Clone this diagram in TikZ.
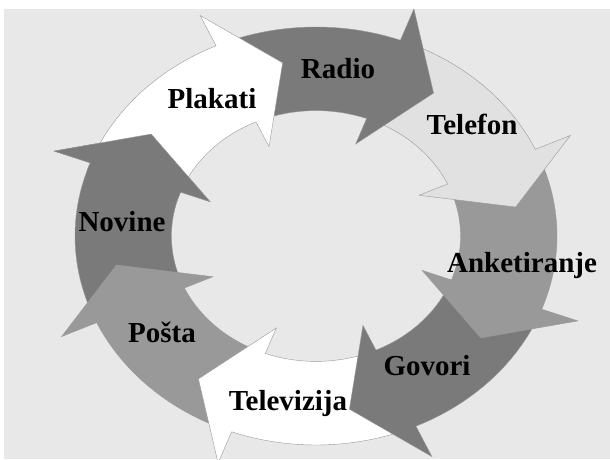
\documentclass[tikz,border=0pt]{standalone}
\usepackage{fontspec}
\setmainfont{Liberation Serif}
\definecolor{PanelGray}{RGB}{232,232,232}
\definecolor{LightArrow}{RGB}{225,225,225}
\definecolor{MidArrow}{RGB}{153,153,153}
\definecolor{DarkArrow}{RGB}{122,122,122}
\tikzset{
  ringarrow/.style={draw=black!40,line width=0.4pt,line join=miter},
  ringlabel/.style={anchor=base,inner sep=0pt,
    font=\bfseries\fontsize{29}{34}\selectfont},
}
% one curved arrow of the ring, #1 = angle of the tip, #2 = fill
\newcommand{\cyclearrow}[2]{%
  \filldraw[ringarrow,fill=#2] (#1+57.5:1)
    arc[start angle=#1+57.5,end angle=#1+15,radius=1]
    -- (#1+15:1.16) -- (#1:0.84) -- (#1+15:0.47) -- (#1+15:0.6)
    arc[start angle=#1+15,end angle=#1+57.5,radius=0.6] -- cycle;}

\begin{document}
\begin{tikzpicture}[x=1pt,y=1pt]
  \clip (0,0) rectangle (610,459);
  \fill[PanelGray] (4,0) rectangle (610,450);
  \begin{scope}[shift={(316,223)},x=241pt,y=209pt]
    % against the clockwise order, so each head lies on the next tail
    \cyclearrow{144.5}{DarkArrow}  % Novine
    \cyclearrow{-170.5}{MidArrow}  % Posta
    \cyclearrow{-125.5}{white}     % Televizija
    \cyclearrow{-80.5}{DarkArrow}  % Govori
    \cyclearrow{-35.5}{MidArrow}   % Anketiranje
    \cyclearrow{9.5}{LightArrow}   % Telefon
    \cyclearrow{54.5}{DarkArrow}   % Radio
    \cyclearrow{99.5}{white}       % Plakati
    % head of Novine again, over the tail of Plakati
    \begin{scope}
      \clip (0,0) -- (140:1.5) -- (151:1.5) -- (162:1.5) -- cycle;
      \cyclearrow{144.5}{DarkArrow}
    \end{scope}
  \end{scope}
  \node[ringlabel] (plakati) at (212,351) {Plakati};
  \node[ringlabel] (radio) at (338,381) {Radio};
  \node[ringlabel] (telefon) at (472,325) {Telefon};
  \node[ringlabel] (anketiranje) at (522,187) {Anketiranje};
  \node[ringlabel] (govori) at (427,84) {Govori};
  \node[ringlabel] (televizija) at (288,49) {Televizija};
  \node[ringlabel] (posta) at (162,117) {Pošta};
  \node[ringlabel] (novine) at (122,228) {Novine};
\end{tikzpicture}
\end{document}
